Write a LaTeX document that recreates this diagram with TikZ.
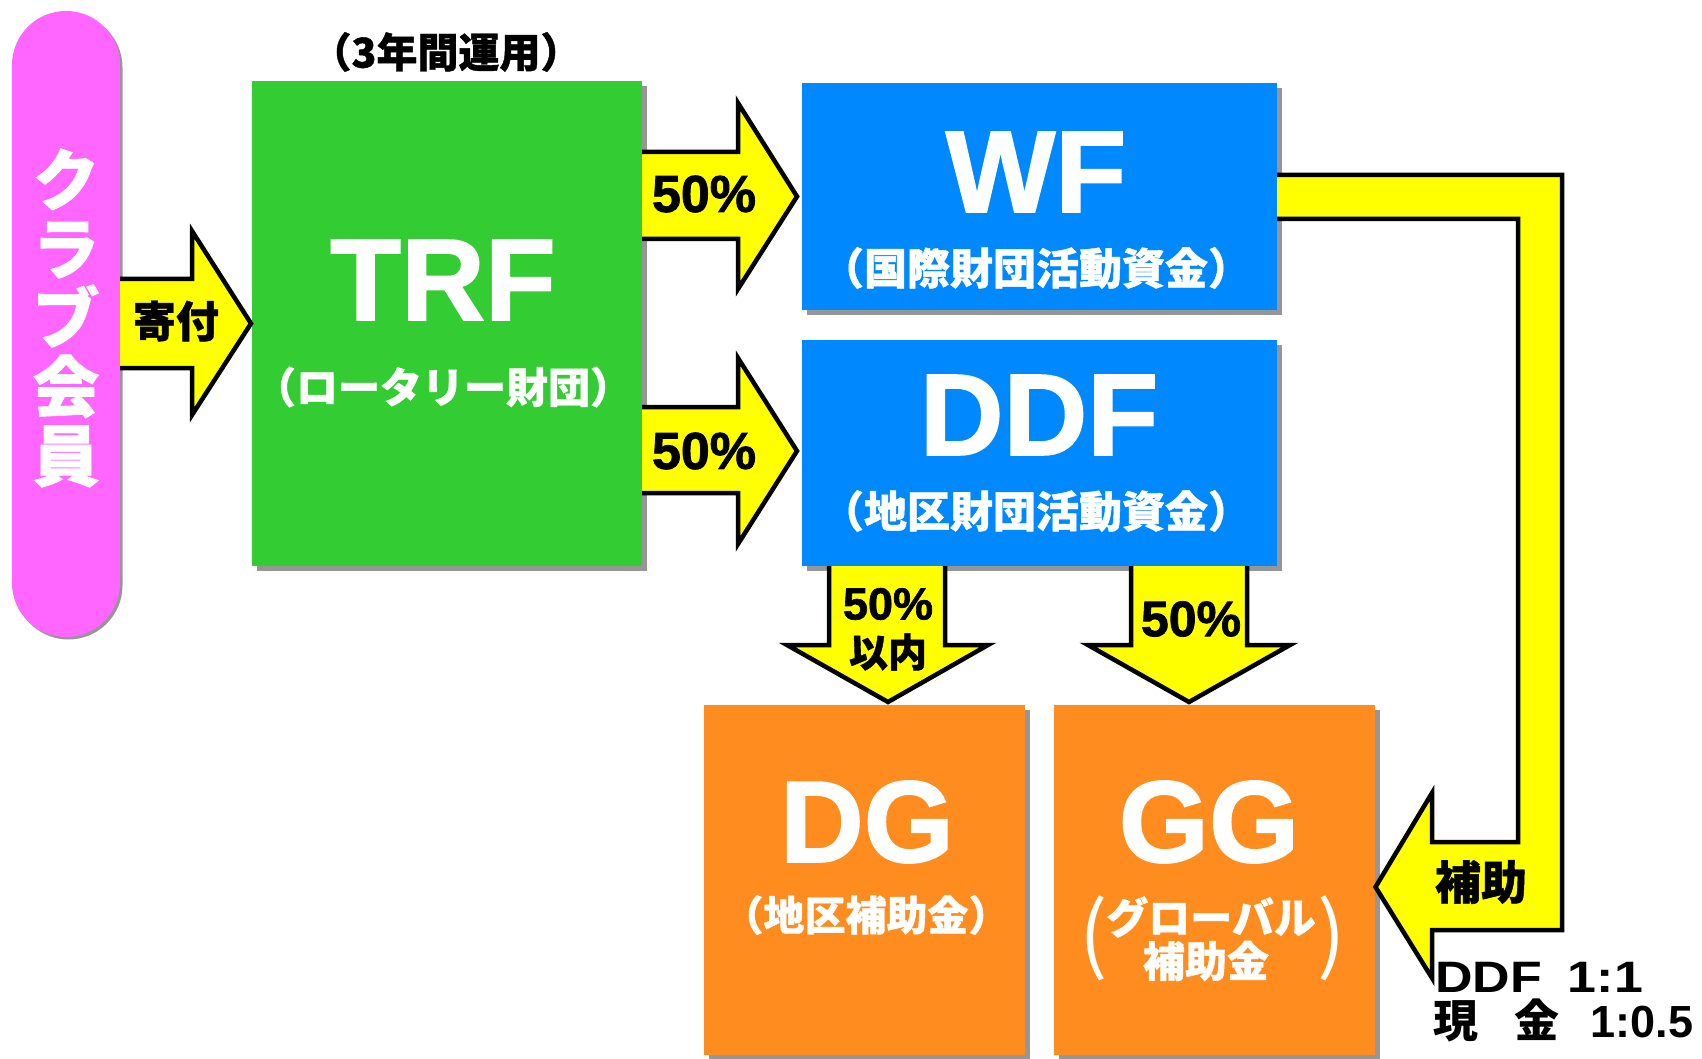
\documentclass[tikz,border=0pt]{standalone}
\usepackage{fontspec}
\setmainfont{Noto Sans CJK JP}[BoldFeatures={FakeBold=1}]
\newfontfamily\latfont{Liberation Sans}[BoldFeatures={FakeBold=1.5}]
\newfontfamily\latmed{Liberation Sans}
\newfontfamily\jpmed{Noto Sans CJK JP}
\usetikzlibrary{calc,shadows}
\definecolor{pillc}{RGB}{255,102,255}
\definecolor{trfc}{RGB}{51,204,51}
\definecolor{bluec}{RGB}{0,136,255}
\definecolor{orangec}{RGB}{255,140,30}
\definecolor{yelc}{RGB}{255,255,0}
\definecolor{shadc}{RGB}{150,150,150}
\newcommand\fsz[1]{\fontsize{#1pt}{#1pt}\selectfont}
\tikzset{
  boxnode/.style={rectangle, draw=none, inner sep=0pt, outer sep=0pt,
    drop shadow={shadow xshift=5pt, shadow yshift=-5pt, fill=shadc, opacity=1}},
  pillnode/.style={rectangle, rounded corners=54pt, draw=none, inner sep=0pt, outer sep=0pt,
    drop shadow={shadow xshift=2.5pt, shadow yshift=-2.5pt, fill=shadc, opacity=1}},
  bigtxt/.style={text=white, inner sep=0pt, font=\latfont\bfseries\fsz{116}},
  subtxt/.style={text=white, inner sep=0pt, font=\bfseries\fsz{#1}},
  lbltxt/.style={text=black, inner sep=0pt, font=\bfseries\fsz{#1}},
  pctxt/.style={text=black, inner sep=0pt, font=\latfont\bfseries\fsz{#1}},
  blockarrow/.style={fill=yelc, draw=black, line width=4.5pt, line join=miter, line cap=butt},
}
\begin{document}
\begin{tikzpicture}[x=1pt,y=-1pt]
\useasboundingbox (0,0) rectangle (1702,1059);
\fill[white] (0,0) rectangle (1702,1059);

% boxes
\node[pillnode, fill=pillc, minimum width=108pt, minimum height=626pt] (pill) at (66,324) {};
\node[boxnode, fill=trfc, minimum width=390pt, minimum height=485pt] (trf) at (447,323.5) {};
\node[boxnode, fill=bluec, minimum width=475pt, minimum height=227pt] (wf) at (1039.5,196.5) {};
\node[boxnode, fill=bluec, minimum width=475pt, minimum height=226pt] (ddf) at (1039.5,453) {};
\node[boxnode, fill=orangec, minimum width=321pt, minimum height=350pt] (dg) at (864,880) {};
\node[boxnode, fill=orangec, minimum width=321pt, minimum height=350pt] (gg) at (1214,880) {};

% block arrows
\path[blockarrow] (pill.east |- 0,279) -- (192,279) -- (192,231) -- ($(trf.west)+(-1,0)$)
  -- (192,415) -- (192,368) -- (pill.east |- 0,368);
\path[blockarrow] (trf.east |- 0,152) -- (738,152) -- (738,103) -- ($(wf.west)+(-5,0)$)
  -- (738,289) -- (738,239) -- (trf.east |- 0,239);
\path[blockarrow] (trf.east |- 0,407) -- (738,407) -- (738,358) -- ($(ddf.west)+(-5,-2)$)
  -- (738,544) -- (738,493) -- (trf.east |- 0,493);
\path[blockarrow] (829,0 |- ddf.south) -- (829,645) -- (787,645) -- ($(dg.north)+(24,-3)$)
  -- (988,645) -- (945,645) -- (945,0 |- ddf.south);
\path[blockarrow] (1131,0 |- ddf.south) -- (1131,645) -- (1088,645) -- ($(gg.north)+(-25,-3)$)
  -- (1290,645) -- (1247,645) -- (1247,0 |- ddf.south);
\path[blockarrow] (wf.east |- 0,175) -- (1562,175) -- (1562,930) -- (1432,930) -- (1432,978)
  -- ($(gg.east)+(1,7)$) -- (1432,793) -- (1432,842) -- (1518,842) -- (1518,219)
  -- (wf.east |- 0,219);

% texts
\node[text=white, inner sep=0pt, align=center, font={\bfseries\fontsize{67pt}{69pt}\selectfont}] (pilltxt) at (66,318) {ク\\ラ\\ブ\\会\\員};
\node[lbltxt=41] (years) at (446,52) {（3年間運用）};
\node[bigtxt] (trfT) at (443,280) {TRF};
\node[subtxt=42] (trfS) at (443,387) {（ロータリー財団）};
\node[bigtxt] (wfT) at (1036,172) {WF};
\node[subtxt=43] (wfS) at (1036,268) {（国際財団活動資金）};
\node[bigtxt] (ddfT) at (1039,415) {DDF};
\node[subtxt=43] (ddfS) at (1036,511) {（地区財団活動資金）};
\node[bigtxt] (dgT) at (867,822) {DG};
\node[subtxt=41] (dgS) at (866,915) {（地区補助金）};
\node[bigtxt] (ggT) at (1209,822) {GG};
\node[subtxt=42] (ggS1) at (1211,917) {グローバル};
\node[subtxt=42] (ggS2) at (1206,961) {補助金};
\node[text=white, inner sep=0pt, font=\fsz{84}] (ggPL) at (1094,938) {(};
\node[text=white, inner sep=0pt, font=\fsz{84}] (ggPR) at (1332,938) {)};

\node[lbltxt=43] (kifu) at (176,321) {寄付};
\node[pctxt=52] (p1) at (704,194) {50\%};
\node[pctxt=52] (p2) at (704,451) {50\%};
\node[pctxt=45] (p3) at (888,604) {50\%};
\node[lbltxt=39] (p3b) at (888,652) {以内};
\node[pctxt=50] (p4) at (1191,619) {50\%};
\node[lbltxt=46] (hojo) at (1481,882) {補助};

\begin{scope}[shift={(1435,977)}, xscale=1.18]
\node[anchor=west, transform shape, inner sep=0pt, font=\latmed\bfseries\fsz{44}] (ratio1) at (0,0) {DDF\hspace{0.5em}1:1};
\end{scope}
\node[anchor=west, inner sep=0pt, font=\jpmed\bfseries\fsz{45}] (ratio2) at (1433,1020) {現\hspace{0.8em}金\hspace{0.7em}{\latmed\bfseries 1:0.5}};
\end{tikzpicture}
\end{document}
